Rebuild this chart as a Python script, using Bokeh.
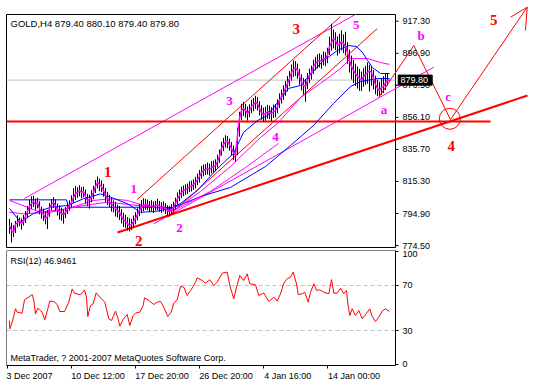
from bokeh.plotting import figure
from bokeh.models import Range1d, FixedTicker
from bokeh.layouts import column
from bokeh.core.properties import value
from bokeh.embed import file_html
from bokeh.resources import INLINE

# ---------------- data ----------------
title_text = "GOLD,H4  879.40 880.10 879.40 879.80"
last_price = 879.80

bar_high = [
    791.5, 789.0, 787.5, 790.2, 793.8, 792.4, 791.8, 794.0, 796.5, 799.8,
    803.6, 805.9, 806.2, 804.4, 805.0, 802.7, 799.3, 798.0, 796.1, 797.2,
    801.5, 804.0, 805.3, 803.8, 801.2, 800.1, 798.6, 797.5, 799.0, 801.8,
    803.3, 806.5, 811.0, 812.4, 811.6, 812.9, 811.7, 812.0, 810.2, 807.4,
    806.9, 809.8, 812.6, 816.2, 818.4, 817.1, 816.0, 813.8, 811.1, 808.7,
    806.8, 804.9, 803.2, 802.4, 800.5, 799.7, 797.8, 795.4, 794.1, 792.6,
    791.9, 791.4, 793.6, 795.8, 798.2, 801.0, 803.5, 804.6, 804.1, 803.7,
    802.8, 803.4, 802.5, 803.0, 804.2, 802.9, 802.0, 802.6, 801.5, 800.2,
    799.8, 800.9, 802.4, 805.0, 808.3, 810.2, 811.9, 812.6, 813.5, 814.0,
    815.4, 815.8, 816.7, 818.2, 820.3, 822.6, 825.2, 826.0, 826.4, 827.3,
    826.7, 828.1, 828.6, 829.4, 832.3, 835.6, 840.5, 843.0, 844.7, 844.2,
    842.6, 840.4, 838.0, 836.2, 849.5, 859.6, 864.8, 866.0, 864.7, 863.0,
    864.4, 867.3, 868.5, 869.9, 869.0, 866.4, 863.8, 862.3, 862.9, 864.1,
    863.5, 862.6, 864.2, 864.6, 867.5, 871.4, 873.8, 876.5, 879.3, 882.4,
    885.6, 889.8, 892.3, 891.9, 890.4, 887.0, 883.5, 881.2, 880.6, 884.3,
    887.1, 889.0, 892.8, 894.6, 896.2, 896.8, 895.9, 898.1, 897.6, 900.4,
    907.5, 915.4, 912.0, 910.3, 907.6, 909.2, 911.5, 908.8, 910.6, 904.0,
    899.2, 895.4, 892.7, 890.3, 888.5, 886.9, 885.2, 887.4, 888.9, 891.0,
    889.6, 888.4, 886.2, 882.5, 880.1, 878.7, 880.9, 882.3, 884.0, 883.8,
    880.1,
]
bar_low = [
    782.0, 776.5, 780.0, 782.5, 786.1, 786.9, 784.7, 787.2, 788.9, 792.1,
    795.0, 797.8, 799.0, 797.3, 798.2, 794.4, 791.6, 790.2, 788.0, 785.0,
    792.8, 796.9, 798.4, 796.5, 793.6, 791.0, 790.3, 788.4, 792.0, 794.6,
    796.7, 798.9, 801.8, 803.5, 804.9, 805.8, 804.6, 805.2, 801.3, 799.6,
    798.0, 802.1, 804.0, 807.9, 810.8, 809.2, 808.5, 805.6, 802.3, 800.2,
    798.9, 796.1, 795.6, 793.0, 792.4, 790.8, 788.6, 786.3, 785.7, 784.0,
    783.5, 784.3, 786.0, 788.1, 790.5, 793.2, 795.0, 796.4, 797.3, 797.0,
    795.9, 796.6, 795.2, 796.8, 797.1, 796.0, 795.3, 796.2, 794.6, 793.5,
    792.9, 794.0, 795.1, 797.6, 800.5, 802.7, 804.8, 806.0, 806.9, 807.4,
    808.6, 808.9, 809.9, 811.0, 812.9, 814.6, 817.1, 818.6, 819.4, 819.8,
    819.0, 820.5, 821.3, 821.8, 824.2, 827.0, 831.8, 834.6, 836.9, 836.5,
    834.9, 832.1, 828.9, 828.0, 832.0, 843.8, 854.2, 857.0, 855.9, 854.1,
    856.2, 858.8, 860.0, 861.4, 860.5, 857.3, 854.6, 853.4, 854.0, 855.2,
    854.9, 853.8, 855.7, 856.1, 858.7, 862.0, 864.9, 867.3, 869.8, 872.6,
    875.9, 879.4, 881.8, 882.5, 880.6, 876.9, 873.2, 870.8, 866.0, 874.1,
    877.9, 880.2, 883.6, 886.0, 887.3, 887.9, 887.0, 889.2, 888.7, 890.6,
    895.8, 898.6, 900.1, 898.9, 895.4, 896.8, 898.7, 897.0, 895.5, 890.1,
    884.6, 880.2, 877.8, 876.1, 874.4, 873.0, 872.9, 875.6, 876.8, 877.5,
    872.6, 876.3, 873.9, 870.8, 869.6, 869.2, 870.4, 871.6, 873.5, 876.2,
    879.4,
]
# fast magenta moving average (follows the bars)
ma_fast = [
    787.3, 784.1, 782.8, 787.9, 789.2, 790.5, 788.5, 789.8, 793.0, 796.2,
    799.4, 801.3, 802.5, 800.6, 801.9, 798.1, 795.5, 794.3, 791.7, 793.0,
    798.7, 800.6, 801.9, 800.0, 797.4, 796.2, 794.9, 794.3, 795.5, 798.1,
    800.0, 801.9, 805.1, 807.6, 808.3, 809.5, 808.3, 808.9, 805.7, 803.2,
    803.8, 805.7, 808.3, 812.1, 814.6, 813.4, 812.1, 809.5, 806.4, 804.4,
    802.5, 800.6, 799.4, 798.1, 796.8, 795.5, 793.0, 791.1, 789.8, 788.5,
    787.3, 787.9, 789.8, 791.7, 794.3, 796.8, 798.7, 800.0, 800.6, 800.6,
    799.4, 800.0, 798.7, 800.0, 800.6, 799.4, 798.7, 799.4, 798.1, 796.8,
    796.2, 797.4, 798.7, 801.3, 804.4, 806.4, 808.3, 809.5, 810.2, 810.8,
    812.1, 812.1, 813.4, 814.6, 816.5, 818.5, 821.0, 822.3, 822.9, 823.5,
    822.9, 824.2, 824.8, 825.5, 828.0, 831.2, 836.3, 838.8, 840.7, 840.7,
    838.8, 836.3, 833.7, 831.8, 844.6, 855.4, 860.5, 861.7, 860.5, 858.5,
    860.5, 863.0, 864.3, 865.6, 864.9, 861.7, 859.2, 857.9, 858.5, 859.8,
    859.2, 858.5, 859.8, 860.5, 863.0, 866.8, 869.4, 871.9, 874.5, 877.7,
    880.8, 884.7, 886.6, 887.8, 885.9, 882.1, 878.3, 876.4, 875.8, 879.6,
    882.7, 884.7, 888.5, 890.4, 891.7, 892.3, 891.7, 893.6, 893.6, 895.5,
    901.2, 903.7, 906.3, 905.0, 901.8, 902.5, 904.4, 903.1, 901.2, 897.4,
    892.3, 888.5, 885.9, 884.0, 882.1, 880.8, 879.6, 882.1, 883.4, 884.7,
    885.9, 884.7, 880.8, 876.9, 874.5, 873.2, 875.1, 875.8, 878.3, 879.6,
    879.8,
]
# slower moving averages, read at sparse bars
ma_blue_mid_x = [0, 5.5, 12, 20.5, 29, 37, 45.5, 50.5, 59, 65.5, 73, 80.5, 85.5, 94, 104, 112,
                 117, 124, 129, 139.5, 145.5, 149.5, 156.5, 164, 169.5, 173.5, 176.5, 179, 181.5, 185.5, 190]
ma_blue_mid_y = [798.1, 789.4, 794.9, 798.9, 800.0, 804.3, 807.4, 805.3, 801.1, 795.7, 796.2, 798.1, 801.3,
                 809.6, 823.6, 833.1, 846.5, 854.1, 857.3, 874.5, 876.4, 882.1, 891.7, 898.7, 901.8, 901.2,
                 897.4, 892.3, 887.8, 884.0, 884.0]
ma_blue_slow_x = [0, 28.5, 29.5, 67, 82, 95.5, 110.5, 128, 140.5, 152, 162, 170.5, 175.5, 184, 190]
ma_blue_slow_y = [803.6, 803.6, 798.9, 798.9, 798.7, 805.7, 811.5, 824.8, 838.2, 850.9, 864.9, 875.7,
                  878.9, 880.8, 880.8]
ma_mag_mid_x = [0, 15.5, 29, 42, 50.5, 59, 67, 75.5, 82, 95.5, 110.5, 125.5, 134, 145.5, 155.5, 165.5,
                170.5, 179, 185.5, 190]
ma_mag_mid_y = [803.2, 795.7, 797.9, 803.2, 804.3, 803.2, 800.0, 798.1, 796.8, 808.9, 824.8, 843.3, 852.2,
                868.7, 877.7, 887.2, 893.6, 893.6, 891.0, 889.8]
ma_mag_slow_x = [0, 7, 20.5, 37, 49, 67, 83, 100.5, 118, 134.5]
ma_mag_slow_y = [795.7, 794.7, 795.7, 800.0, 802.1, 799.6, 797.5, 809.0, 824.2, 839.5]

# analysis objects drawn on the chart: (bar, price) pairs
channel_top_mag = ([7.5, 173.0], [804.5, 921.6])
channel_low_mag = ([72.15, 212.15], [788.35, 888.0])
channel_a_red = ([63.85, 165.5], [803.8, 920.3])
channel_b_red = ([78.85, 183.85], [792.55, 912.5])
trend_long_red = ([54.0, 259.0], [782.8, 870.0])
level_red = ([-1.5, 240.5], [853.5, 853.5])
wave_path = ([184.65, 202.15, 220.5, 258.85], [868.9, 901.8, 854.7, 926.2])
arrow_barbs = ([[250.5, 258.85, 258.0]], [[919.85, 926.2, 911.4]])
circle_pt = ([220.15], [855.2])

red_labels = ["3", "1", "2", "4", "5"]
red_lab_x = [143.35, 49.15, 64.65, 220.85, 242.15]
red_lab_y = [912.5, 821.6, 777.3, 837.6, 917.8]
mag_labels = ["5", "3", "4", "1", "2", "a", "b", "c"]
mag_lab_x = [173.35, 110.0, 133.0, 62.15, 85.0, 187.25, 205.85, 219.35]
mag_lab_y = [914.6, 866.8, 843.5, 810.6, 785.8, 861.1, 908.2, 869.6]

price_ticks = [917.30, 896.90, 876.50, 856.10, 835.70, 815.30, 794.90, 774.50]

# RSI(12), read at sparse bars
rsi_x = [0, 0.15, 1.35, 3, 3.85, 6.35, 7.5, 9.65, 11.35, 12.15, 13, 14.15, 16.35, 17.65, 18.85, 20.15,
         22.15, 23.85, 25.15, 27.5, 29.65, 31.35, 32.5, 35.5, 37.5, 38.5, 39.15, 40.5, 41.85, 43.35,
         45.5, 47.65, 49.65, 51, 53, 54.15, 55.15, 56.85, 58.85, 60.15, 61.85, 63, 65.15, 66.85, 67.5,
         69.65, 72.15, 73.85, 75.5, 77.15, 79.15, 80.85, 82.15, 83.85, 85.5, 87.15, 88.85, 90.5, 91.85,
         93, 93.85, 96.35, 98, 100.15, 102.15, 103.85, 106.35, 108.85, 110.15, 112.15, 113.5, 115.15,
         117.15, 118.85, 120.15, 123, 124.65, 127.15, 129.65, 132.15, 133.85, 135.5, 137.15, 138.85,
         140.5, 141.85, 143.5, 144.35, 146.35, 147.65, 149.35, 150.5, 152.15, 153.5, 155.15, 157.15,
         159.65, 161, 162.15, 163.85, 165.5, 167.15, 168.5, 169.15, 170.15, 171.35, 173, 174.65,
         176.35, 178, 180.15, 181.35, 183, 184.65, 186.35, 188, 190]
rsi_y = [38.9, 31.5, 37.4, 49.3, 46.3, 45.4, 57.3, 59.6, 62.0, 56.7, 44.8, 49.8, 46.3, 39.5, 47.2, 56.1,
         55.8, 53.1, 46.9, 46.9, 55.2, 67.0, 63.2, 61.7, 66.1, 59.6, 42.4, 52.2, 53.7, 63.5,
         59.0, 55.2, 40.4, 38.9, 47.2, 41.3, 33.9, 39.8, 44.2, 34.4, 43.3, 45.4, 46.3, 52.2, 59.0,
         56.7, 53.1, 55.2, 55.8, 50.7, 42.4, 46.3, 54.3, 57.3, 69.1, 68.5, 61.1, 65.6, 69.1,
         73.0, 76.8, 74.4, 72.1, 75.1, 70.0, 73.0, 81.0, 81.9, 70.0, 58.1, 68.5, 78.9,
         74.4, 80.4, 71.5, 70.6, 61.1, 63.3, 55.8, 59.6, 56.1, 62.6, 72.1, 76.0,
         77.4, 81.9, 71.5, 62.0, 62.6, 64.0, 55.2, 64.0, 71.5, 65.6, 66.2, 64.0,
         62.6, 75.3, 63.2, 63.2, 67.6, 62.6, 65.6, 53.7, 43.3, 49.3, 43.3, 47.8,
         40.4, 44.2, 49.3, 42.4, 38.0, 41.8, 47.2, 49.3, 46.9]
rsi_levels = [70, 30]
rsi_ticks = [0, 30, 70, 100]
date_ticks = [-1, 31, 63, 95, 127, 159]
date_labels = ["3 Dec 2007", "10 Dec 12:00", "17 Dec 20:00", "26 Dec 20:00", "4 Jan 16:00", "14 Jan 00:00"]

# ---------------- styling ----------------
FONT = "Liberation Sans"
SERIF = "Liberation Serif"
RED, MAG, BLUE, GRAY = "#FF0000", "#FF00FF", "#0000FF", "#C0C0C0"


def no_align(fig):
    try:
        fig.frame_align = False
    except Exception:
        pass


n = min(len(bar_high), len(bar_low), len(ma_fast))
idx = list(range(n))

main = figure(width=533, height=250, x_range=Range1d(-4.5, 262.0), y_range=Range1d(771.355, 930.48),
              output_backend="svg", toolbar_location=None, x_axis_location=None, y_axis_location=None,
              min_border=0, outline_line_color=None, background_fill_color="white",
              border_fill_color="white")
main.grid.visible = False
no_align(main)

box_l, box_r, box_t, box_b = -1.5, 193.0, 921.57, 773.27
main.line([box_l, box_r, box_r, box_l, box_l], [box_t, box_t, box_b, box_b, box_t],
          line_color="black", line_width=1)
main.line([box_l, box_r], [last_price, last_price], line_color=GRAY, line_width=1)

# drawn channels and trendlines
main.line(*channel_top_mag, line_color=MAG, line_width=1)
main.line(*channel_low_mag, line_color=MAG, line_width=1)
main.line(*channel_a_red, line_color=RED, line_width=1)
main.line(*channel_b_red, line_color=RED, line_width=1)
main.line(*trend_long_red, line_color=RED, line_width=2)
main.line(*level_red, line_color=RED, line_width=2)

# moving averages
main.line(ma_blue_slow_x, ma_blue_slow_y, line_color=BLUE, line_width=1)
main.line(ma_mag_slow_x, ma_mag_slow_y, line_color=MAG, line_width=1)
main.line(ma_mag_mid_x, ma_mag_mid_y, line_color=MAG, line_width=1)
main.line(ma_blue_mid_x, ma_blue_mid_y, line_color=BLUE, line_width=1)

# bars
main.segment(x0=idx, y0=bar_low[:n], x1=idx, y1=bar_high[:n], line_color="black", line_width=1)
main.line(idx, ma_fast[:n], line_color=MAG, line_width=1.5)

# projected waves
main.line(*wave_path, line_color=RED, line_width=1)
main.multi_line(*arrow_barbs, line_color=RED, line_width=1)
main.scatter(*circle_pt, marker="circle", size=21, fill_color=None, line_color=RED, line_width=1)

main.text(red_lab_x, red_lab_y, text=red_labels, text_color=RED, text_font=value(SERIF),
          text_font_style="bold", text_font_size="15px", text_align="center", text_baseline="middle")
main.text(mag_lab_x, mag_lab_y, text=mag_labels, text_color=MAG, text_font=value(SERIF),
          text_font_style="bold", text_font_size="13px", text_align="center", text_baseline="middle")

main.text([0.5], [915.8], text=[title_text], text_color="black", text_font=value(FONT),
          text_font_size="9.5px", text_align="left", text_baseline="middle")

# price scale
main.segment(x0=[box_r] * len(price_ticks), y0=price_ticks, x1=[box_r + 1.5] * len(price_ticks),
             y1=price_ticks, line_color="black", line_width=1)
main.text([196.5] * len(price_ticks), price_ticks, text=[f"{v:.2f}" for v in price_ticks],
          text_color="black", text_font=value(FONT), text_font_size="9px",
          text_align="left", text_baseline="middle")
main.quad(left=[194.35], right=[211.35], bottom=[last_price - 3.2], top=[last_price + 3.2],
          fill_color="black", line_color="black")
main.text([195.5], [last_price], text=[f"{last_price:.2f}"], text_color="white", text_font=value(FONT),
          text_font_size="9px", text_align="left", text_baseline="middle")

# ---------------- RSI panel ----------------
rsi = figure(width=533, height=135, x_range=Range1d(-1.5, 193.0), y_range=Range1d(-1.11, 101.11),
             output_backend="svg", toolbar_location=None, x_axis_location="below",
             y_axis_location="right", min_border_left=6, min_border_top=0, min_border_right=138,
             min_border_bottom=20, outline_line_color=None, background_fill_color="white",
             border_fill_color="white")
rsi.grid.visible = False
no_align(rsi)
for lv in rsi_levels:
    rsi.line([box_l, box_r], [lv, lv], line_color=GRAY, line_dash="4 3", line_width=1)
rsi.line([box_l, box_l, box_r], [-1.11, 101.11, 101.11], line_color="black", line_width=1)
rsi.line(rsi_x, rsi_y, line_color=RED, line_width=1)
rsi.text([0.5], [92.2], text=["RSI(12) 46.9461"], text_font=value(FONT), text_font_size="9px",
         text_align="left", text_baseline="middle", text_color="black")
rsi.text([0.5], [6.0], text=["MetaTrader, ? 2001-2007 MetaQuotes Software Corp."], text_font=value(FONT),
         text_font_size="9px", text_align="left", text_baseline="middle", text_color="black")

yax = rsi.yaxis[0]
yax.ticker = FixedTicker(ticks=rsi_ticks)
yax.major_label_text_font_size = "9px"
yax.major_label_standoff = 4
yax.major_tick_out = 3
yax.major_tick_in = 0
yax.minor_tick_line_color = None

# time scale: visible tick marks (minor ticks) at the dates; labels (major, unmarked)
# placed so that each label starts at its date tick, as in the terminal
label_pos = [t + len(s) * 1.1 for t, s in zip(date_ticks, date_labels)]
xax = rsi.xaxis[0]
xax.ticker = FixedTicker(ticks=label_pos, minor_ticks=date_ticks)
xax.major_label_overrides = {p: s for p, s in zip(label_pos, date_labels)}
xax.major_tick_line_color = None
xax.major_tick_out = 3
xax.major_tick_in = 0
xax.minor_tick_line_color = "black"
xax.minor_tick_out = 3
xax.minor_tick_in = 0
xax.major_label_standoff = 2
xax.major_label_text_font_size = "9px"

for ax in (xax, yax):
    ax.axis_line_color = "black"
    ax.major_label_text_font = FONT
    ax.major_label_text_color = "black"

layout = column(main, rsi, spacing=0)
open("out.html", "w").write(file_html(layout, INLINE))
